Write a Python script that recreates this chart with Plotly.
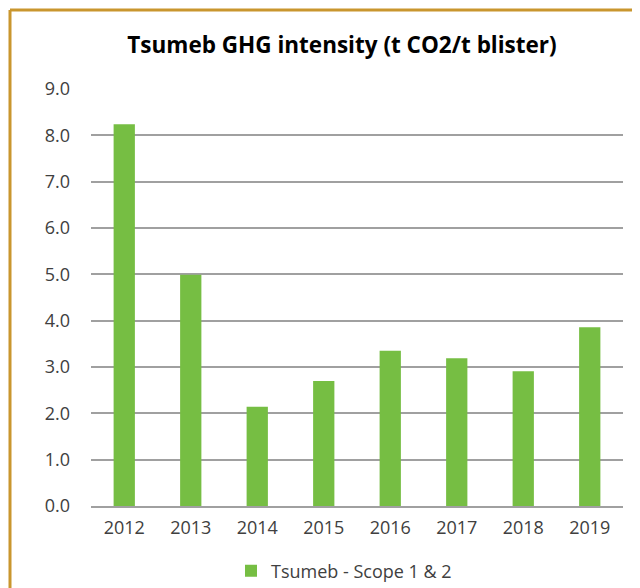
import plotly.graph_objects as go

years = ["2012", "2013", "2014", "2015", "2016", "2017", "2018", "2019"]
intensity = [8.24, 4.99, 2.14, 2.70, 3.35, 3.19, 2.91, 3.86]
y_ticks = [0, 1, 2, 3, 4, 5, 6, 7, 8, 9]
y_tick_labels = ["0.0", "1.0", "2.0", "3.0", "4.0", "5.0", "6.0", "7.0", "8.0", "9.0"]

# page body adds an 8px margin, so the figure is 8px smaller and everything shifted by -8
W, H = 632, 580
ml, mr, mt, mb = 83, 17, 81, 82
pw, ph = W - ml - mr, H - mt - mb

fig = go.Figure()
fig.add_trace(go.Bar(
    x=years, y=intensity, name="Tsumeb - Scope 1 & 2",
    marker=dict(color="#76BE43", line=dict(width=0)), width=0.32,
))

font = "Segoe UI, Open Sans, Noto Sans, sans-serif"
fig.update_layout(
    width=W, height=H,
    margin=dict(l=ml, r=mr, t=mt, b=mb),
    paper_bgcolor="white", plot_bgcolor="white",
    font=dict(family=font, size=18, color="#404040"),
    title=dict(text="<b>Tsumeb GHG intensity (t CO2/t blister)</b>",
               font=dict(size=22.5, color="#000000", family=font),
               x=334 / W, xref="container", xanchor="center",
               y=1 - 37 / H, yref="container", yanchor="middle"),
    showlegend=True,
    legend=dict(orientation="h", x=336 / W, xref="container", xanchor="center",
                y=1 - 563 / H, yref="container", yanchor="middle",
                font=dict(size=18, color="#404040"), itemwidth=30),
    xaxis=dict(showgrid=False, showline=True, linecolor="#A0A0A0", linewidth=1.5,
               ticks="", tickfont=dict(size=18), ticklabelstandoff=5),
    yaxis=dict(range=[0, 9], tickvals=y_ticks, ticktext=y_tick_labels,
               showgrid=True, gridcolor="#A0A0A0", gridwidth=1.5,
               zeroline=False, showline=False, ticks="",
               tickfont=dict(size=18), ticklabelstandoff=20),
    shapes=[
        dict(type="line", xref="paper", yref="paper",
             x0=(2 - ml) / pw, x1=(2 - ml) / pw, y0=1 + (mt - 2) / ph, y1=-(mb + 5) / ph,
             line=dict(color="#C9962E", width=3)),
        dict(type="line", xref="paper", yref="paper",
             x0=(2 - ml) / pw, x1=(W + 5 - ml) / pw, y0=1 + (mt - 2) / ph, y1=1 + (mt - 2) / ph,
             line=dict(color="#C9962E", width=3)),
    ],
)

fig.write_html("out.html")
